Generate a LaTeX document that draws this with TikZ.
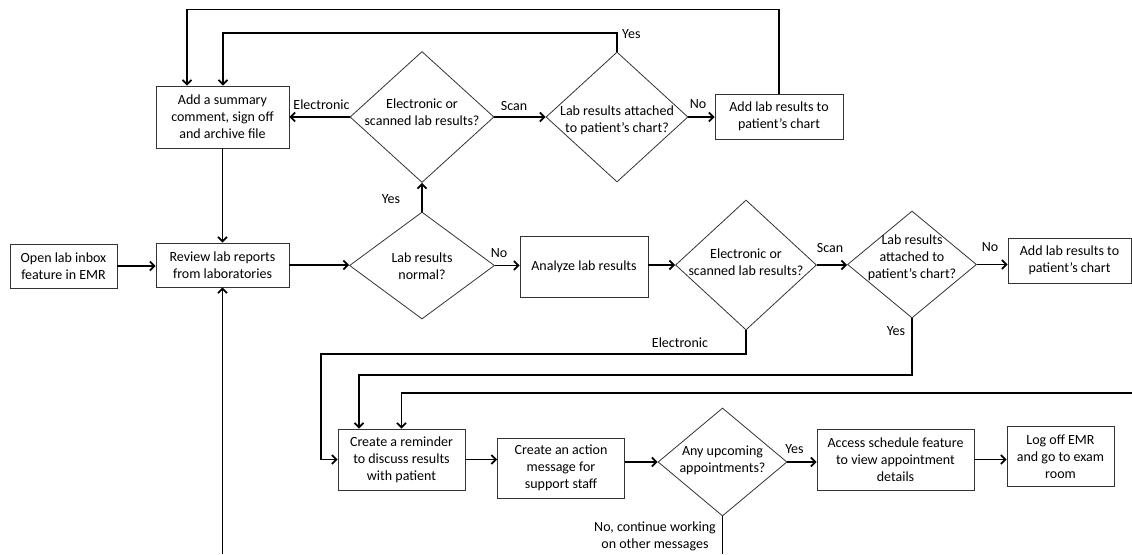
\documentclass[tikz,border=0pt]{standalone}
\usepackage{fontspec}
\setmainfont{Carlito}
\usetikzlibrary{shapes.geometric,arrows.meta}

\begin{document}
\begin{tikzpicture}[x=1pt,y=-1pt,
  txt/.style={font=\fontsize{14}{17}\selectfont,inner sep=0pt,align=center},
  box/.style={txt,draw=black!80,line width=0.8pt},
  dec/.style={shape=diamond,draw=black!80,line width=0.8pt,inner sep=0pt},
  flow/.style={line width=1.7pt,-{Straight Barb[length=4.5pt,width=9pt]}},
  wire/.style={line width=1.7pt}
]
\useasboundingbox (0,0) rectangle (1132,554);

% --- top row: review of normal results ---
\node[box,minimum width=133pt,minimum height=62pt] (sum) at (222.5,117) {Add a summary\\comment, sign off\\and archive file};
\node[dec,minimum width=144pt,minimum height=131pt] (d1) at (422,117) {};
\node[txt] (d1t) at (422,112) {Electronic or\\scanned lab results?};
\node[dec,minimum width=142pt,minimum height=130pt] (d2) at (617,117) {};
\node[txt] (d2t) at (617,120) {Lab results attached\\to patient’s chart?};
\node[box,minimum width=128pt,minimum height=45pt] (addA) at (779,116.5) {Add lab results to\\patient’s chart};

% --- middle row ---
\node[box,minimum width=107pt,minimum height=44pt] (open) at (63.5,266) {Open lab inbox\\feature in EMR};
\node[box,minimum width=133pt,minimum height=44pt] (rev) at (222.5,265) {Review lab reports\\from laboratories};
\node[dec,minimum width=145pt,minimum height=107pt] (d3) at (422,265.5) {};
\node[txt] (d3t) at (422,266) {Lab results\\normal?};
\node[box,minimum width=128pt,minimum height=61pt] (ana) at (584,266.5) {Analyze lab results};
\node[dec,minimum width=141pt,minimum height=130pt] (d4) at (746,265) {};
\node[txt] (d4t) at (746,262) {Electronic or\\scanned lab results?};
\node[dec,minimum width=129pt,minimum height=107pt] (d5) at (912,264.5) {};
\node[txt] (d5t) at (912,258) {Lab results\\attached to\\patient’s chart?};
\node[box,minimum width=123pt,minimum height=45pt] (addB) at (1069.5,260.5) {Add lab results to\\patient’s chart};

% --- bottom row ---
\node[box,minimum width=127pt,minimum height=61pt] (rem) at (401.5,459.5) {Create a reminder\\to discuss results\\with patient};
\node[box,minimum width=127pt,minimum height=60pt] (act) at (561,468) {Create an action\\message for\\support staff};
\node[dec,minimum width=129pt,minimum height=108pt] (d6) at (722.5,462) {};
\node[txt] (d6t) at (722.5,460.5) {Any upcoming\\appointments?};
\node[box,minimum width=157pt,minimum height=61pt] (sch) at (895.5,459.5) {Access schedule feature\\to view appointment\\details};
\node[box,minimum width=107pt,minimum height=60pt] (log) at (1060.5,456.7) {Log off EMR\\and go to exam\\room};

% --- routing points ---
\coordinate (t1) at (187,9.5);
\coordinate (t2) at (223,33);
\coordinate (e1) at (321,354);
\coordinate (e2) at (359,375);
\coordinate (e3) at (1132,393);
\coordinate (b1) at (223,554);
\coordinate (b2) at (722.5,554);

% --- connectors, top row ---
\draw[flow] (d1.west) -- (d1.west -| sum.east);
\draw[flow] (d1.east) -- (d2.west);
\draw[flow] (d2.east) -- (d2.east -| addA.west);
\draw[flow] (addA.north) |- (t1) -- (t1 |- sum.north);
\draw[flow] (d2.north) |- (t2) -- (t2 |- sum.north);
\draw[flow] (sum.south) -- (rev.north);
\draw[flow] (d3.north) -- (d1.south);

% --- connectors, middle row ---
\draw[flow] (open.east) -- (open.east -| rev.west);
\draw[flow] (rev.east) -- (rev.east -| d3.west);
\draw[flow] (d3.east) -- (d3.east -| ana.west);
\draw[flow] (d4.west -| ana.east) -- (d4.west);
\draw[flow] (d4.east) -- (d4.east -| d5.west);
\draw[flow] (d5.east) -- (d5.east -| addB.west);
\draw[flow] (rev.south |- b1) -- (rev.south);

% --- connectors into the reminder ---
\draw[flow] (d4.south) |- (e1) |- (rem.west);
\draw[flow] (d5.south) |- (e2) -- (e2 |- rem.north);
\draw[flow] (e3) -| (rem.north);

% --- connectors, bottom row ---
\draw[flow] (rem.east) -- (rem.east -| act.west);
\draw[flow] (d6.west -| act.east) -- (d6.west);
\draw[flow] (d6.east) -- (d6.east -| sch.west);
\draw[flow] (sch.east) -- (sch.east -| log.west);
\draw[wire] (d6.south) -- (b2);

% --- branch labels ---
\node[txt] (l1) at (321.5,105) {Electronic};
\node[txt] (l2) at (514,106) {Scan};
\node[txt] (l3) at (698,104) {No};
\node[txt,anchor=west] (l4) at (622,34) {Yes};
\node[txt] (l5) at (391,199) {Yes};
\node[txt] (l6) at (499,253) {No};
\node[txt] (l7) at (830,248) {Scan};
\node[txt] (l8) at (990,246.7) {No};
\node[txt] (l9) at (896,331) {Yes};
\node[txt] (l10) at (680,343) {Electronic};
\node[txt] (l11) at (794.5,449) {Yes};
\node[txt] (l12) at (655,536.5) {No, continue working\\on other messages};
\end{tikzpicture}
\end{document}
